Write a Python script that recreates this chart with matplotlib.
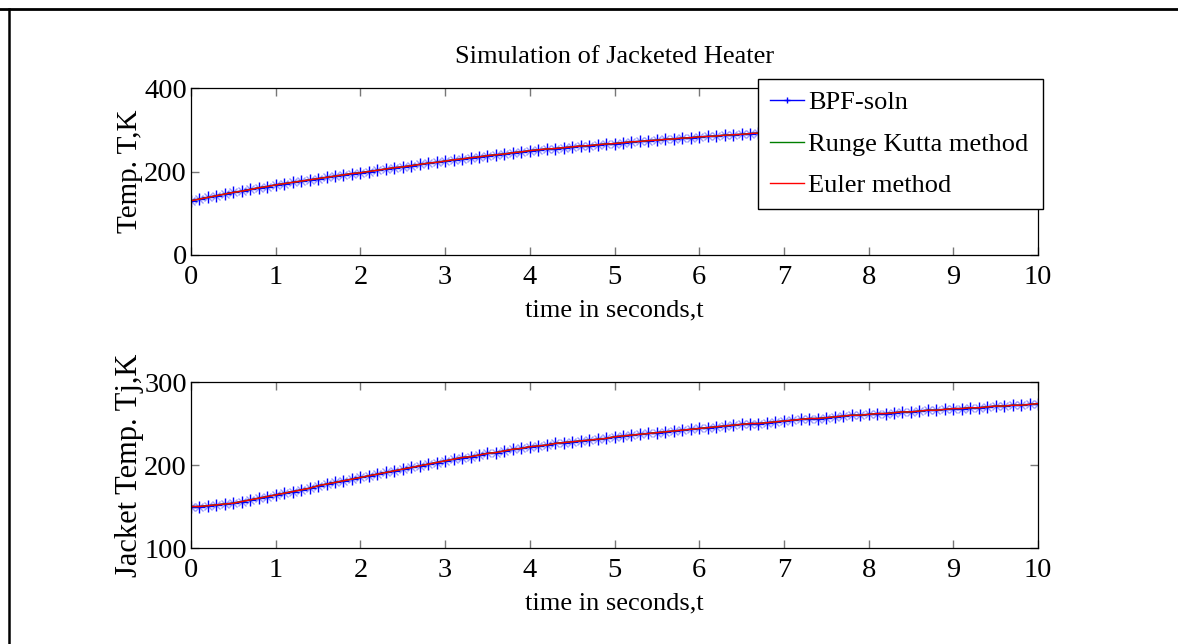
import numpy as np
import matplotlib
matplotlib.use("Agg")
import matplotlib.pyplot as plt
from matplotlib.lines import Line2D

plt.rcParams['font.family'] = ['Liberation Serif', 'DejaVu Serif']

# time grid (0.1 s steps, as in the reference)
t = np.linspace(0, 10, 101)

# reactor temperature T (K)
T_vals = [130, 134, 138, 142, 146, 150, 153, 157, 161, 164, 168,
          171, 174, 177, 180, 183, 186, 189, 192, 195, 197,
          200, 203, 206, 209, 211, 214, 217, 220, 222, 225,
          228, 230, 233, 235, 238, 240, 242, 245, 247, 250,
          252, 254, 255, 257, 259, 261, 262, 264, 266, 267,
          269, 271, 272, 274, 275, 277, 278, 280, 281, 283,
          284, 285, 287, 288, 289, 291, 292, 293, 295, 296,
          297, 299, 300, 301, 302, 303, 305, 306, 307, 308,
          309, 310, 311, 312, 313, 314, 315, 316, 317, 318,
          319, 320, 321, 322, 323, 324, 325, 325, 326, 327]

# jacket temperature Tj (K)
Tj_vals = [150, 150, 151, 152, 153, 154, 156, 158, 160, 162, 164,
           166, 168, 170, 172, 175, 177, 179, 181, 183, 185,
           187, 189, 191, 193, 195, 197, 199, 201, 203, 205,
           207, 209, 210, 212, 214, 215, 217, 219, 220, 222,
           223, 224, 226, 227, 228, 229, 230, 231, 232, 234,
           235, 236, 237, 238, 239, 240, 241, 242, 243, 244,
           245, 246, 247, 248, 249, 250, 250, 251, 252, 253,
           254, 255, 256, 256, 257, 258, 259, 260, 260, 261,
           262, 262, 263, 264, 264, 265, 266, 266, 267, 268,
           268, 269, 269, 270, 271, 271, 272, 272, 273, 274]

labels = ["BPF-soln", "Runge Kutta method", "Euler method"]
x_ticks = list(range(0, 11))
top_yticks = [0, 200, 400]
bot_yticks = [100, 200, 300]

W, H = 1178, 644
fig = plt.figure(figsize=(W / 100, H / 100), dpi=100)

def px(x0, y0, x1, y1):
    return [x0 / W, 1 - y1 / H, (x1 - x0) / W, (y1 - y0) / H]

ax1 = fig.add_axes(px(191, 88, 1038, 255))
ax2 = fig.add_axes(px(191, 382, 1038, 548))

def draw(ax, y):
    # faint diagonal arms of the MATLAB '*' marker
    ax.plot(t, y, 'x', color='#9a9aff', markersize=6, mew=1.0)
    ax.plot(t, y, '-', color='blue', marker='+', markersize=8,
            mew=1.0, lw=1.0, label=labels[0])
    ax.plot(t, y, '-', color='#007f00', lw=1.0, label=labels[1])
    ax.plot(t, y, '-', color='red', lw=1.0, label=labels[2])
    ax.set_xlim(0, 10)
    ax.set_xticks(x_ticks)
    ax.tick_params(direction='in', length=6, width=1, color='#777777',
                   top=True, right=True, labelsize=20.5, pad=7)
    ax.tick_params(axis='y', pad=3)
    for s in ax.spines.values():
        s.set_linewidth(0.9)
        s.set_color('black')
    ax.set_xlabel("time in seconds,t", fontsize=19, labelpad=0)
    ax.xaxis.set_label_coords(0.5, -0.265)

draw(ax1, T_vals)
ax1.set_ylim(0, 400)
ax1.set_yticks(top_yticks)
ax1.set_ylabel("Temp. T,K", fontsize=21, va='center')
ax1.yaxis.set_label_coords(-0.0725, 0.5)
ax1.set_title("Simulation of Jacketed Heater", fontsize=19, pad=18)

draw(ax2, Tj_vals)
ax2.set_ylim(100, 300)
ax2.set_yticks(bot_yticks)
ax2.set_ylabel("Jacket Temp. Tj,K", fontsize=22, va='center')
ax2.yaxis.set_label_coords(-0.0725, 0.5)

leg = ax1.legend(loc='upper left', bbox_to_anchor=(758 / W, 1 - 79 / H, 285 / W, 0),
                 bbox_transform=fig.transFigure, mode='expand', borderaxespad=0,
                 fontsize=19, fancybox=False, edgecolor='black', framealpha=1,
                 borderpad=0.45, labelspacing=0.68, handlelength=1.3,
                 handletextpad=0.15, markerscale=0.6)
leg.get_frame().set_linewidth(1.0)
leg.set_zorder(5)

# outer frame lines of the original figure
fig.add_artist(Line2D([0, 1], [1 - 8.5 / H, 1 - 8.5 / H], color='black', lw=2))
fig.add_artist(Line2D([9 / W, 9 / W], [0, 1 - 8.5 / H], color='black', lw=1.8))

fig.savefig("out.png", dpi=100)
